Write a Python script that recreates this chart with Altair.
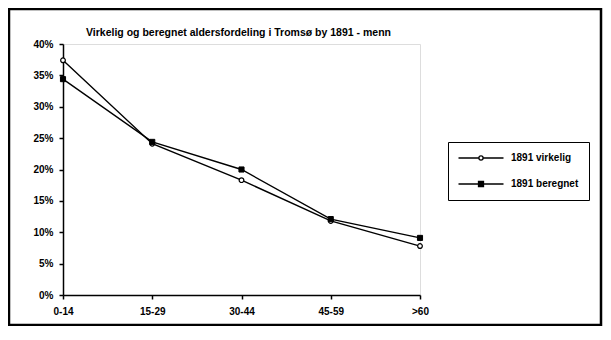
import altair as alt
import pandas as pd

categories = ["0-14", "15-29", "30-44", "45-59", ">60"]
virkelig = [0.374, 0.241, 0.183, 0.118, 0.078]
beregnet = [0.344, 0.244, 0.200, 0.121, 0.091]
series_names = ["1891 virkelig", "1891 beregnet"]
title_text = "Virkelig og beregnet aldersfordeling i Tromsø by 1891 - menn"
y_ticks = [0, 0.05, 0.10, 0.15, 0.20, 0.25, 0.30, 0.35, 0.40]

rows = []
for c, v in zip(categories, virkelig):
    rows.append({"alder": c, "andel": v, "serie": series_names[0]})
for c, v in zip(categories, beregnet):
    rows.append({"alder": c, "andel": v, "serie": series_names[1]})
df = pd.DataFrame(rows)

FONT = "Liberation Sans"

x_enc = alt.X("alder:N", sort=categories,
              scale=alt.Scale(type="point", padding=0),
              axis=alt.Axis(title=None, labelAngle=0, grid=False, domainColor="black",
                            domainWidth=1.5, tickColor="black", tickWidth=1.5, tickSize=4,
                            labelPadding=7, labelFont=FONT, labelFontSize=10,
                            labelFontWeight="bold", labelColor="black"))
y_enc = alt.Y("andel:Q", scale=alt.Scale(domain=[0, 0.4], nice=False),
              axis=alt.Axis(title=None, values=y_ticks, format=".0%", grid=False,
                            domainColor="black", domainWidth=1.5, tickColor="black",
                            tickWidth=1.5, tickSize=4, labelPadding=6, labelFont=FONT,
                            labelFontSize=10, labelFontWeight="bold", labelColor="black"))

base = alt.Chart(df)

lines = base.mark_line(color="black", strokeWidth=1.4).encode(
    x=x_enc, y=y_enc, detail="serie:N"
)

circles = base.transform_filter(alt.datum.serie == series_names[0]).mark_point(
    shape="circle", size=22, fill="white", stroke="black", strokeWidth=1.2, opacity=1
).encode(x=x_enc, y=y_enc)

squares = base.transform_filter(alt.datum.serie == series_names[1]).mark_point(
    shape="square", size=26, fill="black", stroke="black", strokeWidth=1, opacity=1
).encode(x=x_enc, y=y_enc)

path_open = "M-4.5,0H-0.42M0.42,0H4.5M0.42,0A0.42,0.42,0,1,1,-0.42,0A0.42,0.42,0,1,1,0.42,0Z"
path_sq = "M-4.5,0H4.5M-0.5,-0.5H0.5V0.5H-0.5Z"

leg = alt.Legend(title=None, orient="none", legendX=385, legendY=98,
                 strokeColor="black", fillColor="white", padding=10,
                 symbolSize=100, symbolOffset=17, symbolStrokeColor="black",
                 symbolStrokeWidth=1.3, labelOffset=24, rowPadding=15,
                 labelFont=FONT, labelFontSize=10, labelFontWeight="bold",
                 labelColor="black")

legend_layer = base.transform_filter(alt.datum.andel < 0).mark_point(
    strokeWidth=1.3, opacity=1
).encode(
    x=x_enc, y=y_enc,
    shape=alt.Shape("serie:N", scale=alt.Scale(domain=series_names, range=[path_open, path_sq]), legend=leg),
    fill=alt.Fill("serie:N", scale=alt.Scale(domain=series_names, range=["white", "black"]), legend=leg),
    stroke=alt.Stroke("serie:N", scale=alt.Scale(domain=series_names, range=["black", "black"]), legend=leg),
)

one = pd.DataFrame({"k": [0]})

frame = alt.Chart(one).mark_rect(
    fill=None, stroke="black", strokeWidth=2.5
).encode(x=alt.value(-54), x2=alt.value(538), y=alt.value(-35), y2=alt.value(281))

title = alt.Chart(one).mark_text(
    align="left", baseline="middle", font=FONT, fontSize=10.5, fontWeight=700, color="black"
).encode(x=alt.value(23), y=alt.value(-11), text=alt.value(title_text))

chart = alt.layer(frame, title, lines, circles, squares, legend_layer).properties(
    width=357, height=251,
    autosize=alt.AutoSizeParams(type="none"),
    padding={"left": 55, "top": 36, "right": 183, "bottom": 31},
).configure_view(stroke=None).configure(background="white")

chart.save("out.html", embed_options={"renderer": "svg", "actions": False})
